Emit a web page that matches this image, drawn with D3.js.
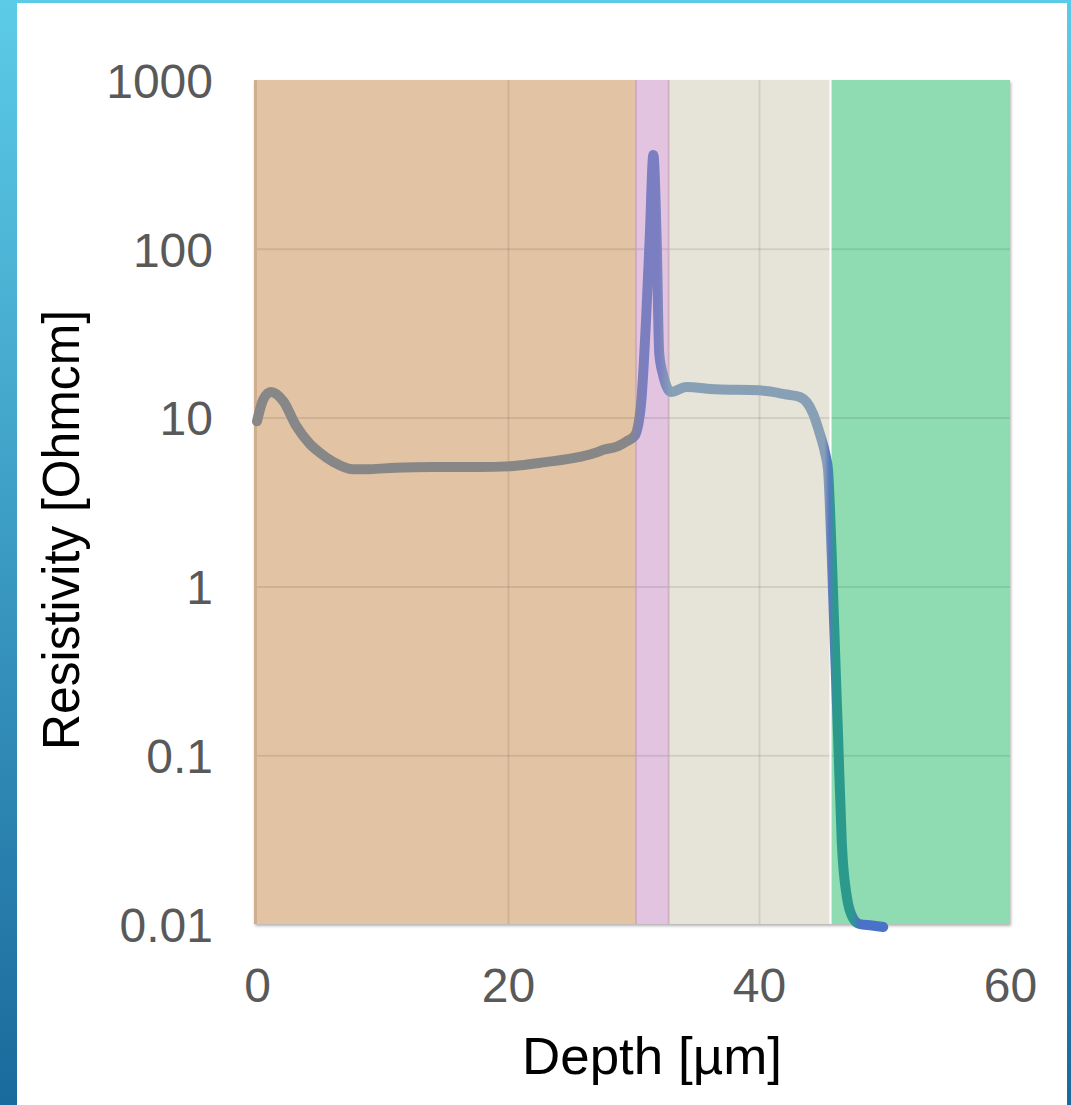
<!DOCTYPE html>
<html>
<head>
<meta charset="utf-8">
<script src="https://cdn.jsdelivr.net/npm/d3@7"></script>
<style>
  body { margin: 0; background: #fff; }
  svg { display: block; }
  .tick text { font-family: "Liberation Sans", Arial, sans-serif; fill: #595959; }
</style>
</head>
<body>
<svg id="chart" width="1071" height="1105"></svg>
<script>
// depth profile
const depth = [0, 0.5, 1.1, 2.1, 3.1, 4.2, 5, 6.1, 7.6, 9, 11, 14, 17.7, 20.4, 23, 25.7, 27, 27.6, 28.6, 29.4,
  30.1, 30.6, 31.0, 31.3, 31.58, 31.85, 32.05, 32.35, 33.0, 34.2, 36.6, 40.0, 42.2, 43.3, 44.3, 44.85,
  45.3, 45.5, 45.8, 46.1, 46.3, 46.6, 47.0, 47.5, 48.0, 49.0, 49.9];
const resistivity = [9.5, 12.8, 14.2, 12.5, 9.0, 7.0, 6.2, 5.45, 4.95, 4.95, 5.05, 5.1, 5.1, 5.17, 5.45, 5.85, 6.2, 6.45, 6.7, 7.2,
  7.8, 12, 38, 120, 360, 110, 24, 18, 14.2, 15.2, 14.7, 14.5, 13.7, 13.2, 10.6, 8.0,
  6.0, 4.9, 1.5, 0.34, 0.13, 0.03, 0.0145, 0.0108, 0.0100, 0.0098, 0.0096];

// layers (depth boundaries)
const layerStart = [0, 30.2, 32.8, 45.7];
const layerEnd = [30.2, 32.8, 45.7, 60];
const layerColors = ["#e2c4a5", "#e2c4e0", "#e6e4d8", "#8fdcb2"];

const xTicks = [0, 20, 40, 60];
const yTicks = [0.01, 0.1, 1, 10, 100, 1000];
const yTickLabels = ["0.01", "0.1", "1", "10", "100", "1000"];

const svg = d3.select("#chart");
const W = 1071, H = 1105;
const margin = { left: 257, right: 61, top: 80, bottom: 181 };
const width = W - margin.left - margin.right;
const height = H - margin.top - margin.bottom;

const defs = svg.append("defs");

// slide background strips
const side = defs.append("linearGradient").attr("id", "side")
  .attr("x1", 0).attr("y1", 0).attr("x2", 0).attr("y2", 1);
side.append("stop").attr("offset", 0).attr("stop-color", "#5ccbe8");
side.append("stop").attr("offset", 1).attr("stop-color", "#1a6a9c");

svg.append("rect").attr("width", W).attr("height", H).attr("fill", "#fff");
svg.append("rect").attr("x", 0).attr("y", 0).attr("width", 17).attr("height", H).attr("fill", "url(#side)");
svg.append("rect").attr("x", 1067).attr("y", 0).attr("width", 4).attr("height", H).attr("fill", "url(#side)");
svg.append("rect").attr("x", 0).attr("y", 0).attr("width", W).attr("height", 3).attr("fill", "#5ccbe8");

const shadow = defs.append("filter").attr("id", "shadow")
  .attr("x", -0.05).attr("y", -0.05).attr("width", 1.1).attr("height", 1.1);
shadow.append("feDropShadow").attr("dx", 1).attr("dy", 2).attr("stdDeviation", 1.5)
  .attr("flood-color", "#000").attr("flood-opacity", 0.3);

const chart = svg.append("g")
  .attr("transform", "translate(" + margin.left + "," + margin.top + ")");

const xScale = d3.scaleLinear().domain([0, 60]).range([0, width]);
const yScale = d3.scaleLog().domain([0.01, 1000]).range([height, 0]);

// plot background with shadow
chart.append("rect")
  .attr("x", -3).attr("y", 0).attr("width", width + 3).attr("height", height)
  .attr("fill", "#e2c4a5")
  .attr("filter", "url(#shadow)");

chart.selectAll(".layer")
  .data(layerStart)
  .join("rect")
  .attr("class", "layer")
  .attr("x", (d, i) => xScale(d))
  .attr("y", 0)
  .attr("width", (d, i) => xScale(layerEnd[i]) - xScale(d))
  .attr("height", height)
  .attr("fill", (d, i) => layerColors[i]);

// grid
const gridY = chart.append("g")
  .call(d3.axisLeft(yScale).tickValues(yTicks).tickSize(-width).tickFormat(""));
gridY.select(".domain").remove();
gridY.selectAll("line").attr("stroke", "#000").attr("stroke-opacity", 0.09).attr("stroke-width", 2);
gridY.selectAll(".tick").filter(d => d === 0.01 || d === 1000).remove();

const gridX = chart.append("g")
  .attr("transform", "translate(0," + height + ")")
  .call(d3.axisBottom(xScale).tickValues([20, 40]).tickSize(-height).tickFormat(""));
gridX.select(".domain").remove();
gridX.selectAll("line").attr("stroke", "#000").attr("stroke-opacity", 0.09).attr("stroke-width", 2);

// layer edges
chart.append("line")
  .attr("x1", -1.5).attr("x2", -1.5).attr("y1", 0).attr("y2", height)
  .attr("stroke", "#c9a581").attr("stroke-opacity", 0.7).attr("stroke-width", 3);
chart.selectAll(".pinkEdge")
  .data([layerStart[1], layerEnd[1]])
  .join("line")
  .attr("class", "pinkEdge")
  .attr("x1", d => xScale(d)).attr("x2", d => xScale(d))
  .attr("y1", 0).attr("y2", height)
  .attr("stroke", "#c89bbd").attr("stroke-opacity", 0.6).attr("stroke-width", 2);
chart.append("line")
  .attr("x1", xScale(layerStart[3])).attr("x2", xScale(layerStart[3]))
  .attr("y1", 0).attr("y2", height)
  .attr("stroke", "#fff").attr("stroke-width", 2);

// line colour along depth
const stops = [
  [0, "#878787"], [29.6, "#878787"], [30.8, "#7b7ec0"], [32.0, "#7b7ec0"], [33.0, "#87a0b6"],
  [45.2, "#87a0b6"], [45.6, "#5878c2"], [46.0, "#2b9a8c"], [47.4, "#2b9a8c"], [48.0, "#4a72c6"], [60, "#4a72c6"]
];
const grad = defs.append("linearGradient").attr("id", "lineGrad")
  .attr("gradientUnits", "userSpaceOnUse")
  .attr("x1", xScale(0)).attr("y1", 0).attr("x2", xScale(60)).attr("y2", 0);
grad.selectAll("stop").data(stops).join("stop")
  .attr("offset", d => d[0] / 60)
  .attr("stop-color", d => d[1]);

const line = d3.line()
  .x(i => xScale(depth[i]))
  .y(i => yScale(resistivity[i]))
  .curve(d3.curveMonotoneX);

chart.append("path")
  .datum(d3.range(depth.length))
  .attr("d", line)
  .attr("fill", "none")
  .attr("stroke", "url(#lineGrad)")
  .attr("stroke-width", 10)
  .attr("stroke-linecap", "round")
  .attr("stroke-linejoin", "round");

// axes
const yAxis = chart.append("g")
  .call(d3.axisLeft(yScale).tickValues(yTicks).tickSize(0).tickPadding(44)
    .tickFormat((d, i) => yTickLabels[i]));
yAxis.select(".domain").remove();
yAxis.selectAll("text").attr("font-size", 48).attr("dy", "0.36em");

const xAxis = chart.append("g")
  .attr("transform", "translate(0," + height + ")")
  .call(d3.axisBottom(xScale).tickValues(xTicks).tickSize(0).tickPadding(44)
    .tickFormat(d3.format("d")));
xAxis.select(".domain").remove();
xAxis.selectAll("text").attr("font-size", 48).attr("dy", "0.71em");

// titles
svg.append("text")
  .attr("x", 652).attr("y", 1074)
  .attr("text-anchor", "middle")
  .attr("font-family", "'Liberation Sans', Arial, sans-serif")
  .attr("font-size", 52)
  .attr("textLength", 260).attr("lengthAdjust", "spacingAndGlyphs")
  .attr("fill", "#000")
  .text("Depth [µm]");

svg.append("text")
  .attr("transform", "translate(79,530) rotate(-90)")
  .attr("text-anchor", "middle")
  .attr("font-family", "'Liberation Sans', Arial, sans-serif")
  .attr("font-size", 52)
  .attr("textLength", 440).attr("lengthAdjust", "spacingAndGlyphs")
  .attr("fill", "#000")
  .text("Resistivity [Ohmcm]");
</script>
</body>
</html>
